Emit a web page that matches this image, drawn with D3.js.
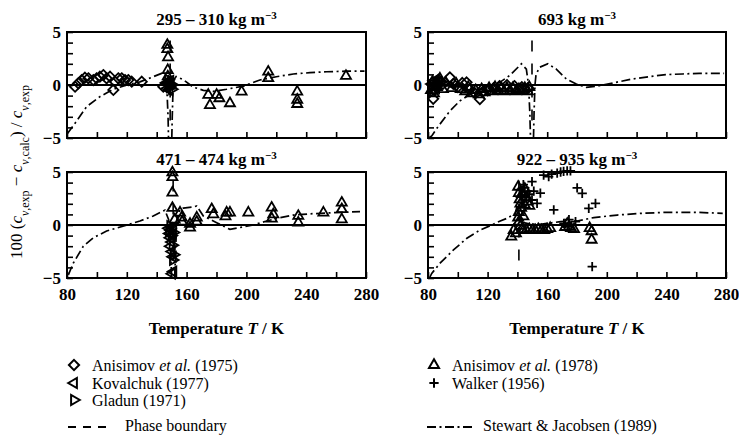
<!DOCTYPE html>
<html>
<head>
<meta charset="utf-8">
<script src="https://cdn.jsdelivr.net/npm/d3@7"></script>
<style>
body { margin: 0; background: #fff; }
text { font-family: "Liberation Serif", "Times New Roman", serif; fill: #000; }
</style>
</head>
<body>
<script>
// values: [T / K, 100 (cv,exp - cv,calc) / cv,exp]
var panelTitles = ["295 \u2013 310", "693 ", "471 \u2013 474", "922 \u2013 935"];
var tempTicks = [80, 100, 120, 140, 160, 180, 200, 220, 240, 260, 280];
var tempLabels = [80, 120, 160, 200, 240, 280];
var devTicks = [-5, -4, -3, -2, -1, 0, 1, 2, 3, 4, 5];
var devLabels = [-5, 0, 5];
var phaseT = [149, 149.8, 151, 141];

// 295 - 310 kg m-3
var anis75_a = [[85.4,-0.16],[87.6,0.16],[89.8,0.47],[92,0.69],[94.3,0.63],[97.6,0.47],[99.8,0.63],[102,0.79],[104.3,0.94],[106.5,0.63],[108.8,0.79],[111,-0.47],[112.1,0.31],[114.3,0.63],[116.6,0.63],[118.8,0.47],[121,0.47],[123.3,0.31],[130,0.31],[144.4,-0.16]];
var anis78_a = [[147.1,3.77],[147.1,3.37],[147.6,2.6],[147.4,1.4],[147.4,0.8],[148,0.3],[148.5,-0.1],[149,0.2],[174.5,-0.94],[175.6,-1.9],[180.1,-0.94],[181.9,-1.26],[189,-1.73],[196.8,-0.63],[214.6,1.25],[214.6,0.63],[234,-0.63],[234,-1.4],[234,-1.8],[266.6,0.85]];
var koval_a = [[146.5,0.2],[147.2,-0.3],[148,0.1],[148.6,-0.5],[149.2,0.4]];
var gladun_a = [[147.8,0.5],[148.8,-0.2],[149.5,0.1],[150.2,-0.4]];
var sj_a1 = [[80.2,-4.6],[85.4,-3.6],[93.1,-2.05],[102,-1.1],[111,-0.4],[120,0],[128.8,0.3],[137.7,0.78],[143.3,1.1],[146,0.6],[147,-1],[147.6,-3],[147.9,-5]];
var sj_a2 = [[150.1,-5],[150.4,-3],[150.8,-1],[151.5,0.5],[153,0.8],[157.8,0.5],[164.5,-0.2],[171.2,-0.5],[177.8,-0.6],[186.8,-0.4],[198,-0.1],[209,0.47],[220,0.78],[231.4,1.04],[242.5,1.16],[253.7,1.25],[266.6,1.3],[279,1.3]];

// 693 kg m-3
var anis75_b = [[83.5,-1.3],[84.5,-0.5],[85.8,0.2],[87,0.5],[88.5,0.3],[90,0.1],[94.7,0.72],[97,0.1],[100,-0.2],[103,0.2],[105.9,0.25],[108,-0.4],[111,-0.7],[114.8,-1.33],[117,-0.6],[120,-0.5],[124,-0.3],[128,-0.1],[133,0],[138,-0.1],[143,-0.2],[147,-0.3]];
var anis78_b = [[82,-0.5],[83,0.3],[84,-0.8],[86,-0.2],[88,0.6],[90,-0.4],[92,0.2],[96,-0.3],[99,0.1],[102,-0.4],[105,-0.6],[107,-0.2],[109,-0.8],[112,-0.5],[114,-0.9],[116,-0.4],[118,-0.7],[121,-0.3],[123,-0.6],[125,-0.2],[127,-0.5],[129,-0.3],[131,-0.6],[133,-0.3],[135,-0.5],[137,-0.3],[139,-0.6],[141,-0.4],[143,-0.5],[145,-0.3],[147,-0.6],[148,-0.2]];
var koval_b = [[82.5,0.1],[84,0.4],[85.5,-0.3],[87,0.2]];
var gladun_b = [[83,-0.2],[86,0],[89,0.3]];
var sj_b1 = [[80.5,-5],[82.5,-4.8],[86.9,-3.9],[94.7,-2.45],[101.4,-1.5],[110.3,-0.7],[119.2,-0.2],[128.2,0.25],[134.9,0.9],[142.7,2],[146,1.5],[147.5,0],[148.3,-2.5],[148.8,-5]];
var sj_b2 = [[150.8,-5],[151.2,-2.5],[151.8,0],[152.5,1],[154.9,1.67],[160.5,2],[166.1,1.5],[172.8,0.57],[179.5,0.1],[186.2,-0.22],[195,-0.07],[206.2,0.25],[217.3,0.57],[228.5,0.79],[239.6,0.98],[250.8,1.04],[262,1.1],[278.7,1.1]];

// 471 - 474 kg m-3
var anis78_c = [[150.5,4.95],[150.5,4.5],[150.5,3.05],[150.5,1.6],[152,0.5],[155.6,1.16],[156.7,0.69],[157,0.3],[162.3,-0.25],[162.3,0.1],[166.8,0.69],[166.8,0.3],[176.8,1.48],[177.9,1],[186.8,1.16],[189,1.16],[186,0.8],[201.3,1.16],[216.9,1.63],[218,1],[217,0.6],[234.7,0.85],[234.7,0.22],[251.5,1.16],[263.8,2.1],[263.8,1.48],[263.8,0.53]];
var koval_c = [[148,-0.3],[148.5,-0.8],[149,-1.2],[149.5,-0.5],[150,-1.6],[150.5,-0.9],[151,-0.2],[149.2,-2],[150.2,-2.5],[150.8,-3],[151.2,-4.4],[150.3,-4.6]];
var gladun_c = [[148.2,-0.6],[149,-0.1],[149.8,-1],[150.6,-1.9],[151.3,-0.7],[150.8,-3.3],[151.5,-2.8]];
var sj_c1 = [[80.9,-4.7],[84.2,-3.6],[90.9,-2],[97.6,-1.2],[106.5,-0.57],[120,0],[128.8,0.38],[137.7,0.85],[145.5,1.4],[148,0.5],[149,-1.5],[149.6,-3.5],[150,-5]];
var sj_c2 = [[152,-5],[152.4,-3.5],[152.9,-1.5],[153.5,0.5],[155.6,1.48],[157.8,1.6],[164.5,1.7],[166.8,1.8],[171.2,0.85],[180.1,0.22],[186.8,-0.26],[189,-0.41],[193.5,-0.3],[204.6,0],[213.6,0.38],[222.5,0.69],[231.4,0.94],[244.8,1.07],[258.2,1.16],[276,1.26]];

// 922 - 935 kg m-3
var anis78_d = [[140.5,3.6],[141,3],[141.5,2.4],[142,2],[142.5,1.6],[141,1.2],[140.5,0.7],[141,0.3],[142,-0.1],[143,-0.4],[144,0.8],[145,1.9],[146,2.6],[147,2.2],[148,1.8],[143,2.9],[145,3.4],[144,-0.5],[146,-0.5],[148,-0.4],[150,-0.5],[152,-0.5],[154,-0.4],[156,-0.5],[158,-0.5],[160,-0.4],[162,-0.3],[135.9,-1.1],[137.5,-0.5],[139,-0.8],[172,-0.2],[173.5,0.1],[174.6,-0.16],[176,-0.3],[178,-0.4],[189.8,-0.6],[189.8,-1.4],[188.5,-0.3]];
var walker_d = [[149.8,4.1],[157.6,4.7],[161,4.56],[163,4.8],[166.7,4.9],[169,5],[171,5.05],[173.4,5.1],[175.6,5.1],[180.1,3.5],[183.5,2.98],[187.9,1.57],[192.4,2.04],[190.2,-3.92],[164.4,1.42],[153.2,2.04],[149.8,2.36],[155.4,3],[174.6,0.5],[171.2,0.16],[179,0.32],[145,3.5],[147,3.2],[143,2.8],[144,3.8],[146,2.6],[148,2.9],[151,3.2],[142,3.3]];
var sj_d1 = [[81,-5],[82.5,-4.57],[88.1,-3.6],[97.1,-2.35],[106.1,-1.25],[115,-0.47],[121.8,-0.06],[128.5,0.38],[133,0.63],[138.6,1.1],[139.7,1.74],[141,2.3]];
var sj_d2 = [[142,0.3],[148,0.1],[155.4,0.06],[168.9,0.32],[180.1,0.38],[191.3,0.7],[207,0.94],[222.8,1.1],[240.7,1.2],[258.7,1.2],[277.8,1.1]];

var width = 739, height = 435;
var svg = d3.select("body").append("svg")
    .attr("width", width)
    .attr("height", height);

// panel boxes in pixels
var boxes = [
  {x0: 67, x1: 366, y0: 32, y1: 138},
  {x0: 428, x1: 726, y0: 32, y1: 138},
  {x0: 67, x1: 366, y0: 172, y1: 278},
  {x0: 428, x1: 726, y0: 172, y1: 278}
];

var panels = [
  {diam: anis75_a, tri: anis78_a, left: koval_a, right: gladun_a, plus: [], curves: [sj_a1, sj_a2]},
  {diam: anis75_b, tri: anis78_b, left: koval_b, right: gladun_b, plus: [], curves: [sj_b1, sj_b2]},
  {diam: [], tri: anis78_c, left: koval_c, right: gladun_c, plus: [], curves: [sj_c1, sj_c2]},
  {diam: [], tri: anis78_d, left: [], right: [], plus: walker_d, curves: [sj_d1, sj_d2]}
];

var triPath = d3.symbol().type(d3.symbolTriangle2).size(72)();
var diamPath = d3.symbol().type(d3.symbolDiamond2).size(66)();
var plusPath = d3.symbol().type(d3.symbolPlus).size(30)();

var dashDot = "9,3.5,2,3.5";

function drawMarks(g, data, path, rot, x, y) {
  g.selectAll(null)
    .data(data)
    .enter().append("path")
    .attr("d", path)
    .attr("transform", function(d) { return "translate(" + x(d[0]) + "," + y(d[1]) + ") rotate(" + rot + ")"; })
    .attr("fill", "none")
    .attr("stroke", "#000")
    .attr("stroke-width", 1.8);
}

panels.forEach(function(p, i) {
  var b = boxes[i];
  var x = d3.scaleLinear().domain([80, 280]).range([b.x0, b.x1]);
  var y = d3.scaleLinear().domain([-5, 5]).range([b.y1, b.y0]);
  var g = svg.append("g");
  var bottomRow = i >= 2;

  // zero line
  g.append("line")
    .attr("x1", b.x0).attr("x2", b.x1)
    .attr("y1", y(0)).attr("y2", y(0))
    .attr("stroke", "#000").attr("stroke-width", 1.8);

  // phase boundary
  g.append("line")
    .attr("x1", x(phaseT[i])).attr("x2", x(phaseT[i]))
    .attr("y1", y(4.2)).attr("y2", y(-4.2))
    .attr("stroke", "#000").attr("stroke-width", 1.6)
    .attr("stroke-dasharray", "11,12");

  // Stewart & Jacobsen curve
  var line = d3.line().x(function(d) { return x(d[0]); }).y(function(d) { return y(d[1]); });
  p.curves.forEach(function(c) {
    g.append("path")
      .attr("d", line(c))
      .attr("fill", "none")
      .attr("stroke", "#000")
      .attr("stroke-width", 1.7)
      .attr("stroke-dasharray", dashDot);
  });

  drawMarks(g, p.diam, diamPath, 0, x, y);
  drawMarks(g, p.tri, triPath, 0, x, y);
  drawMarks(g, p.left, triPath, -90, x, y);
  drawMarks(g, p.right, triPath, 90, x, y);
  drawMarks(g, p.plus, plusPath, 0, x, y);

  // axes, ticks pointing inwards
  var xAxis = g.append("g")
    .attr("transform", "translate(0," + b.y1 + ")")
    .call(d3.axisBottom(x).tickValues(tempTicks).tickSize(-6).tickPadding(10)
      .tickFormat(function(d) { return bottomRow && tempLabels.indexOf(d) >= 0 ? d : ""; }));
  var yAxis = g.append("g")
    .attr("transform", "translate(" + b.x0 + ",0)")
    .call(d3.axisLeft(y).tickValues(devTicks).tickSize(-6).tickPadding(6)
      .tickFormat(function(d) { return devLabels.indexOf(d) >= 0 ? d3.format("d")(d) : ""; }));
  [xAxis, yAxis].forEach(function(a) {
    a.select(".domain").remove();
    a.selectAll("line").attr("stroke", "#000").attr("stroke-width", 1.6);
    a.selectAll("text")
      .attr("font-family", "'Liberation Serif', serif")
      .attr("font-size", 17)
      .attr("font-weight", "bold")
      .attr("fill", "#000");
  });

  // frame
  g.append("rect")
    .attr("x", b.x0).attr("y", b.y0)
    .attr("width", b.x1 - b.x0).attr("height", b.y1 - b.y0)
    .attr("fill", "none").attr("stroke", "#000").attr("stroke-width", 2);

  // density title
  var t = g.append("text")
    .attr("x", (b.x0 + b.x1) / 2)
    .attr("y", b.y0 - 7)
    .attr("text-anchor", "middle")
    .attr("font-size", 17)
    .attr("font-weight", "bold");
  t.append("tspan").text(panelTitles[i] + " kg m");
  t.append("tspan").attr("font-size", 11).attr("baseline-shift", "super").text("\u22123");

  if (bottomRow) {
    var xt = g.append("text")
      .attr("x", (b.x0 + b.x1) / 2)
      .attr("y", 334)
      .attr("text-anchor", "middle")
      .attr("font-size", 17)
      .attr("font-weight", "bold");
    xt.append("tspan").text("Temperature ");
    xt.append("tspan").attr("font-style", "italic").text("T");
    xt.append("tspan").text(" / K");
  }
});

// y axis title
var yt = svg.append("text")
  .attr("transform", "translate(22,172) rotate(-90)")
  .attr("text-anchor", "middle")
  .attr("font-size", 17);
function cv(sub) {
  yt.append("tspan").attr("font-style", "italic").text("c");
  yt.append("tspan").attr("font-size", 12).attr("baseline-shift", "sub").attr("font-style", "italic").text("v");
  yt.append("tspan").attr("font-size", 12).attr("baseline-shift", "sub").text("," + sub);
}
yt.append("tspan").text("100 (");
cv("exp");
yt.append("tspan").text(" \u2212 ");
cv("calc");
yt.append("tspan").text(") / ");
cv("exp");

// legend
var legend = svg.append("g");
var legItems = [
  {x: 74, y: 365, path: diamPath, rot: 0, pre: "Anisimov ", it: "et al.", post: " (1975)"},
  {x: 74, y: 383, path: triPath, rot: -90, pre: "Kovalchuk (1977)", it: "", post: ""},
  {x: 74, y: 400, path: triPath, rot: 90, pre: "Gladun (1971)", it: "", post: ""},
  {x: 434, y: 365, path: triPath, rot: 0, pre: "Anisimov ", it: "et al.", post: " (1978)"},
  {x: 434, y: 383, path: plusPath, rot: 0, pre: "Walker (1956)", it: "", post: ""}
];
legItems.forEach(function(d) {
  legend.append("path")
    .attr("d", d.path)
    .attr("transform", "translate(" + d.x + "," + d.y + ") rotate(" + d.rot + ")")
    .attr("fill", "none").attr("stroke", "#000").attr("stroke-width", 2);
  var lt = legend.append("text")
    .attr("x", d.x + 18).attr("y", d.y + 5.5)
    .attr("font-size", 16);
  lt.append("tspan").text(d.pre);
  if (d.it) {
    lt.append("tspan").attr("font-style", "italic").text(d.it);
    lt.append("tspan").text(d.post);
  }
});

legend.append("line")
  .attr("x1", 68).attr("x2", 110).attr("y1", 427).attr("y2", 427)
  .attr("stroke", "#000").attr("stroke-width", 2).attr("stroke-dasharray", "8,7");
legend.append("text").attr("x", 125).attr("y", 431).attr("font-size", 16).text("Phase boundary");

legend.append("line")
  .attr("x1", 427).attr("x2", 472).attr("y1", 427).attr("y2", 427)
  .attr("stroke", "#000").attr("stroke-width", 2).attr("stroke-dasharray", dashDot);
legend.append("text").attr("x", 483).attr("y", 431).attr("font-size", 16).text("Stewart & Jacobsen (1989)");
</script>
</body>
</html>
